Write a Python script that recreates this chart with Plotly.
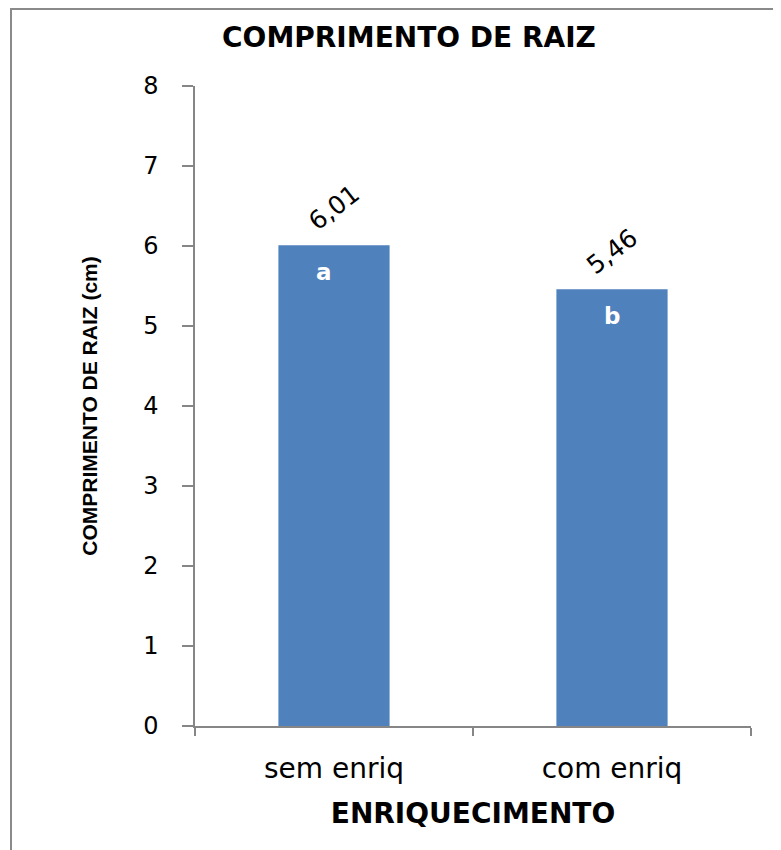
import plotly.graph_objects as go

categories = ["sem enriq", "com enriq"]
values = [6.01, 5.46]
letters = ["a", "b"]
y_ticks = [0, 1, 2, 3, 4, 5, 6, 7, 8]

BAR = "#4F81BD"
AXIS = "#868686"
FONT = "DejaVu Sans, Open Sans, sans-serif"

# plot area in figure pixels (page has 8px body offset)
L, R, T, B = 187, 743, 78, 718
W, H = 781, 850
PW, PH = R - L, B - T

fig = go.Figure()
fig.add_trace(go.Bar(
    x=categories, y=values, width=0.4,
    marker=dict(color=BAR, line=dict(width=0)),
    hoverinfo="skip",
))

annotations = []
for c, v, l in zip(categories, values, letters):
    annotations.append(dict(
        x=c, y=v, xref="x", yref="y",
        text=f"{v:.2f}".replace(".", ","),
        showarrow=False, textangle=-38,
        font=dict(family=FONT, size=25, color="#000000"),
        yshift=38, xanchor="center", yanchor="middle",
    ))
    annotations.append(dict(
        x=c, y=v, xref="x", yref="y",
        text=f"<b>{l}</b>",
        showarrow=False,
        font=dict(family=FONT, size=23, color="#FFFFFF"),
        yshift=-27, xshift=-10 if l == "a" else 0, xanchor="center", yanchor="middle",
    ))

fig.update_layout(
    width=W, height=H,
    margin=dict(l=L, r=W - R, t=T, b=H - B),
    paper_bgcolor="#FFFFFF", plot_bgcolor="#FFFFFF",
    showlegend=False,
    title=dict(
        text="<b>COMPRIMENTO DE RAIZ</b>",
        x=401 / W, xanchor="center",
        y=1 - 29 / H, yanchor="middle",
        font=dict(family=FONT, size=28, color="#000000"),
    ),
    annotations=annotations,
    shapes=[dict(
        type="rect", xref="paper", yref="paper",
        x0=(3 - L) / PW, x1=1.2, y0=-0.4, y1=(B - 1) / PH,
        line=dict(color="#8A8A8A", width=2), fillcolor="rgba(0,0,0,0)",
        layer="below",
    )],
)

fig.update_xaxes(
    type="category", range=[-0.5, 1.5],
    showline=True, linecolor=AXIS, linewidth=1.5,
    ticks="outside", tickson="boundaries", ticklen=8, tickcolor=AXIS, tickwidth=1.5,
    ticklabelstandoff=17,
    showgrid=False, zeroline=False,
    tickfont=dict(family=FONT, size=28, color="#000000"),
    title=dict(text="<b>ENRIQUECIMENTO</b>", standoff=19,
               font=dict(family=FONT, size=28, color="#000000")),
)
fig.update_yaxes(
    range=[0, 8], tickvals=y_ticks,
    showline=True, linecolor=AXIS, linewidth=1.5,
    ticks="outside", ticklen=11, tickcolor=AXIS, tickwidth=1.5,
    ticklabelstandoff=19,
    showgrid=False, zeroline=False,
    tickfont=dict(family=FONT, size=24, color="#000000"),
    title=dict(text="<b>COMPRIMENTO DE RAIZ (cm)</b>", standoff=40,
               font=dict(family="Liberation Sans, Arial, sans-serif", size=21, color="#000000")),
)

fig.write_html("out.html")
